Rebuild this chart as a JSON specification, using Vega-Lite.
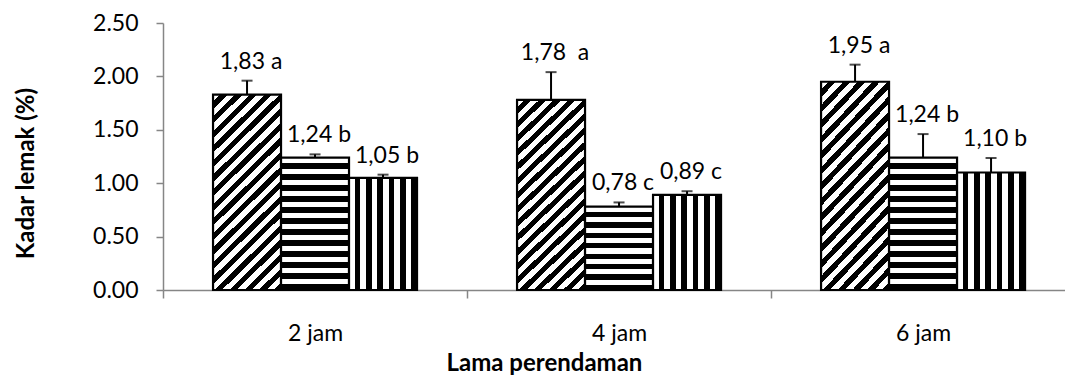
{
  "$schema": "https://vega.github.io/schema/vega-lite/v6.json",
  "width": 902,
  "height": 267,
  "autosize": "none",
  "padding": {"left": 163, "top": 23, "right": 0, "bottom": 86},
  "background": "#ffffff",
  "config": {"view": {"stroke": null}, "font": "Lato"},
  "data": {
    "values": [
      {"waktu": "2 jam", "perlakuan": "P1", "kadar": 1.83, "atas": 1.96, "label": "1,83 a"},
      {"waktu": "2 jam", "perlakuan": "P2", "kadar": 1.24, "atas": 1.27, "label": "1,24 b"},
      {"waktu": "2 jam", "perlakuan": "P3", "kadar": 1.05, "atas": 1.08, "label": "1,05 b"},
      {"waktu": "4 jam", "perlakuan": "P1", "kadar": 1.78, "atas": 2.04, "label": "1,78\u00a0 a"},
      {"waktu": "4 jam", "perlakuan": "P2", "kadar": 0.78, "atas": 0.82, "label": "0,78 c"},
      {"waktu": "4 jam", "perlakuan": "P3", "kadar": 0.89, "atas": 0.925, "label": "0,89 c"},
      {"waktu": "6 jam", "perlakuan": "P1", "kadar": 1.95, "atas": 2.11, "label": "1,95 a"},
      {"waktu": "6 jam", "perlakuan": "P2", "kadar": 1.24, "atas": 1.46, "label": "1,24 b"},
      {"waktu": "6 jam", "perlakuan": "P3", "kadar": 1.10, "atas": 1.236, "label": "1,10 b"}
    ]
  },
  "encoding": {
    "x": {
      "field": "waktu",
      "type": "nominal",
      "sort": ["2 jam", "4 jam", "6 jam"],
      "scale": {"paddingInner": 0.329, "paddingOuter": 0.148, "align": 0.556},
      "axis": {
        "title": "Lama perendaman",
        "titleFont": "Lato",
        "titleFontSize": 24,
        "titleFontWeight": "bold",
        "titleColor": "#000000",
        "titleX": 381,
        "titleY": 80,
        "titleBaseline": "alphabetic",
        "labelFont": "Lato",
        "labelFontSize": 23,
        "labelColor": "#000000",
        "labelAngle": 0,
        "labelBaseline": "alphabetic",
        "labelPadding": 42,
        "tickSize": 8,
        "tickColor": "#868686",
        "tickWidth": 1.5,
        "domainColor": "#868686",
        "domainWidth": 1.5,
        "bandPosition": 0,
        "tickOffset": -50,
        "labelOffset": 50,
        "grid": false
      }
    },
    "xOffset": {
      "field": "perlakuan",
      "type": "nominal",
      "scale": {"domain": ["P1", "P2", "P3"], "paddingInner": 0, "paddingOuter": 0}
    }
  },
  "layer": [
    {
      "mark": {"type": "bar", "stroke": "#000000", "strokeWidth": 2.2},
      "encoding": {
        "y": {
          "field": "kadar",
          "type": "quantitative",
          "scale": {"domain": [0, 2.5], "nice": false, "zero": true},
          "axis": {
            "title": "Kadar lemak (%)",
            "titleFont": "Lato",
            "titleFontSize": 24,
            "titleFontWeight": "bold",
            "titleColor": "#000000",
            "titleX": -130,
            "titleY": 150,
            "titleAngle": -90,
            "titleAlign": "center",
            "titleBaseline": "alphabetic",
            "values": [0, 0.5, 1, 1.5, 2, 2.5],
            "format": ".2f",
            "labelFont": "Lato",
            "labelFontSize": 23,
            "labelColor": "#000000",
            "labelPadding": 18,
            "tickSize": 7,
            "tickColor": "#868686",
            "tickWidth": 1.5,
            "domainColor": "#868686",
            "domainWidth": 1.5,
            "grid": false
          }
        },
        "fill": {
          "condition": [
            {
              "test": "datum.perlakuan === 'P1'",
              "value": {
                "gradient": "linear", "x1": 0, "y1": 0, "x2": 0.4127, "y2": 1.2017,
                "stops": [{"offset":0,"color":"#fff"},
{"offset":0.0278,"color":"#fff"},{"offset":0.0278,"color":"#000"},
{"offset":0.0556,"color":"#000"},{"offset":0.0556,"color":"#fff"},
{"offset":0.0833,"color":"#fff"},{"offset":0.0833,"color":"#000"},
{"offset":0.1111,"color":"#000"},{"offset":0.1111,"color":"#fff"},
{"offset":0.1389,"color":"#fff"},{"offset":0.1389,"color":"#000"},
{"offset":0.1667,"color":"#000"},{"offset":0.1667,"color":"#fff"},
{"offset":0.1944,"color":"#fff"},{"offset":0.1944,"color":"#000"},
{"offset":0.2222,"color":"#000"},{"offset":0.2222,"color":"#fff"},
{"offset":0.25,"color":"#fff"},{"offset":0.25,"color":"#000"},
{"offset":0.2778,"color":"#000"},{"offset":0.2778,"color":"#fff"},
{"offset":0.3056,"color":"#fff"},{"offset":0.3056,"color":"#000"},
{"offset":0.3333,"color":"#000"},{"offset":0.3333,"color":"#fff"},
{"offset":0.3611,"color":"#fff"},{"offset":0.3611,"color":"#000"},
{"offset":0.3889,"color":"#000"},{"offset":0.3889,"color":"#fff"},
{"offset":0.4167,"color":"#fff"},{"offset":0.4167,"color":"#000"},
{"offset":0.4444,"color":"#000"},{"offset":0.4444,"color":"#fff"},
{"offset":0.4722,"color":"#fff"},{"offset":0.4722,"color":"#000"},
{"offset":0.5,"color":"#000"},{"offset":0.5,"color":"#fff"},
{"offset":0.5278,"color":"#fff"},{"offset":0.5278,"color":"#000"},
{"offset":0.5556,"color":"#000"},{"offset":0.5556,"color":"#fff"},
{"offset":0.5833,"color":"#fff"},{"offset":0.5833,"color":"#000"},
{"offset":0.6111,"color":"#000"},{"offset":0.6111,"color":"#fff"},
{"offset":0.6389,"color":"#fff"},{"offset":0.6389,"color":"#000"},
{"offset":0.6667,"color":"#000"},{"offset":0.6667,"color":"#fff"},
{"offset":0.6944,"color":"#fff"},{"offset":0.6944,"color":"#000"},
{"offset":0.7222,"color":"#000"},{"offset":0.7222,"color":"#fff"},
{"offset":0.75,"color":"#fff"},{"offset":0.75,"color":"#000"},
{"offset":0.7778,"color":"#000"},{"offset":0.7778,"color":"#fff"},
{"offset":0.8056,"color":"#fff"},{"offset":0.8056,"color":"#000"},
{"offset":0.8333,"color":"#000"},{"offset":0.8333,"color":"#fff"},
{"offset":0.8611,"color":"#fff"},{"offset":0.8611,"color":"#000"},
{"offset":0.8889,"color":"#000"},{"offset":0.8889,"color":"#fff"},
{"offset":0.9167,"color":"#fff"},{"offset":0.9167,"color":"#000"},
{"offset":0.9444,"color":"#000"},{"offset":0.9444,"color":"#fff"},
{"offset":0.9722,"color":"#fff"},{"offset":0.9722,"color":"#000"},
{"offset":1,"color":"#000"}]
              }
            },
            {
              "test": "datum.perlakuan === 'P2' && datum.kadar < 1",
              "value": {
                "gradient": "linear", "x1": 0, "y1": 0, "x2": 0, "y2": 1,
                "stops": [{"offset":0,"color":"#fff"},
{"offset":0.0625,"color":"#fff"},{"offset":0.0625,"color":"#000"},
{"offset":0.125,"color":"#000"},{"offset":0.125,"color":"#fff"},
{"offset":0.1875,"color":"#fff"},{"offset":0.1875,"color":"#000"},
{"offset":0.25,"color":"#000"},{"offset":0.25,"color":"#fff"},
{"offset":0.3125,"color":"#fff"},{"offset":0.3125,"color":"#000"},
{"offset":0.375,"color":"#000"},{"offset":0.375,"color":"#fff"},
{"offset":0.4375,"color":"#fff"},{"offset":0.4375,"color":"#000"},
{"offset":0.5,"color":"#000"},{"offset":0.5,"color":"#fff"},
{"offset":0.5625,"color":"#fff"},{"offset":0.5625,"color":"#000"},
{"offset":0.625,"color":"#000"},{"offset":0.625,"color":"#fff"},
{"offset":0.6875,"color":"#fff"},{"offset":0.6875,"color":"#000"},
{"offset":0.75,"color":"#000"},{"offset":0.75,"color":"#fff"},
{"offset":0.8125,"color":"#fff"},{"offset":0.8125,"color":"#000"},
{"offset":0.875,"color":"#000"},{"offset":0.875,"color":"#fff"},
{"offset":0.9375,"color":"#fff"},{"offset":0.9375,"color":"#000"},
{"offset":1,"color":"#000"}]
              }
            },
            {
              "test": "datum.perlakuan === 'P2'",
              "value": {
                "gradient": "linear", "x1": 0, "y1": 0, "x2": 0, "y2": 1,
                "stops": [{"offset":0,"color":"#fff"},
{"offset":0.0417,"color":"#fff"},{"offset":0.0417,"color":"#000"},
{"offset":0.0833,"color":"#000"},{"offset":0.0833,"color":"#fff"},
{"offset":0.125,"color":"#fff"},{"offset":0.125,"color":"#000"},
{"offset":0.1667,"color":"#000"},{"offset":0.1667,"color":"#fff"},
{"offset":0.2083,"color":"#fff"},{"offset":0.2083,"color":"#000"},
{"offset":0.25,"color":"#000"},{"offset":0.25,"color":"#fff"},
{"offset":0.2917,"color":"#fff"},{"offset":0.2917,"color":"#000"},
{"offset":0.3333,"color":"#000"},{"offset":0.3333,"color":"#fff"},
{"offset":0.375,"color":"#fff"},{"offset":0.375,"color":"#000"},
{"offset":0.4167,"color":"#000"},{"offset":0.4167,"color":"#fff"},
{"offset":0.4583,"color":"#fff"},{"offset":0.4583,"color":"#000"},
{"offset":0.5,"color":"#000"},{"offset":0.5,"color":"#fff"},
{"offset":0.5417,"color":"#fff"},{"offset":0.5417,"color":"#000"},
{"offset":0.5833,"color":"#000"},{"offset":0.5833,"color":"#fff"},
{"offset":0.625,"color":"#fff"},{"offset":0.625,"color":"#000"},
{"offset":0.6667,"color":"#000"},{"offset":0.6667,"color":"#fff"},
{"offset":0.7083,"color":"#fff"},{"offset":0.7083,"color":"#000"},
{"offset":0.75,"color":"#000"},{"offset":0.75,"color":"#fff"},
{"offset":0.7917,"color":"#fff"},{"offset":0.7917,"color":"#000"},
{"offset":0.8333,"color":"#000"},{"offset":0.8333,"color":"#fff"},
{"offset":0.875,"color":"#fff"},{"offset":0.875,"color":"#000"},
{"offset":0.9167,"color":"#000"},{"offset":0.9167,"color":"#fff"},
{"offset":0.9583,"color":"#fff"},{"offset":0.9583,"color":"#000"},
{"offset":1,"color":"#000"}]
              }
            }
          ],
          "value": {
            "gradient": "linear", "x1": 0, "y1": 0, "x2": 1, "y2": 0,
            "stops": [{"offset":0,"color":"#fff"},
{"offset":0.0833,"color":"#fff"},{"offset":0.0833,"color":"#000"},
{"offset":0.1667,"color":"#000"},{"offset":0.1667,"color":"#fff"},
{"offset":0.25,"color":"#fff"},{"offset":0.25,"color":"#000"},
{"offset":0.3333,"color":"#000"},{"offset":0.3333,"color":"#fff"},
{"offset":0.4167,"color":"#fff"},{"offset":0.4167,"color":"#000"},
{"offset":0.5,"color":"#000"},{"offset":0.5,"color":"#fff"},
{"offset":0.5833,"color":"#fff"},{"offset":0.5833,"color":"#000"},
{"offset":0.6667,"color":"#000"},{"offset":0.6667,"color":"#fff"},
{"offset":0.75,"color":"#fff"},{"offset":0.75,"color":"#000"},
{"offset":0.8333,"color":"#000"},{"offset":0.8333,"color":"#fff"},
{"offset":0.9167,"color":"#fff"},{"offset":0.9167,"color":"#000"},
{"offset":1,"color":"#000"}]
          }
        }
      }
    },
    {
      "mark": {"type": "rule", "color": "#000000", "strokeWidth": 2},
      "encoding": {
        "y": {"field": "kadar", "type": "quantitative"},
        "y2": {"field": "atas"}
      }
    },
    {
      "mark": {"type": "tick", "color": "#000000", "thickness": 2, "size": 11, "orient": "horizontal"},
      "encoding": {
        "y": {"field": "atas", "type": "quantitative"}
      }
    },
    {
      "mark": {"type": "text", "font": "Lato", "fontSize": 23, "color": "#000000", "baseline": "alphabetic", "align": "center", "dy": -12, "dx": 4},
      "encoding": {
        "y": {"field": "atas", "type": "quantitative"},
        "text": {"field": "label"}
      }
    }
  ]
}
